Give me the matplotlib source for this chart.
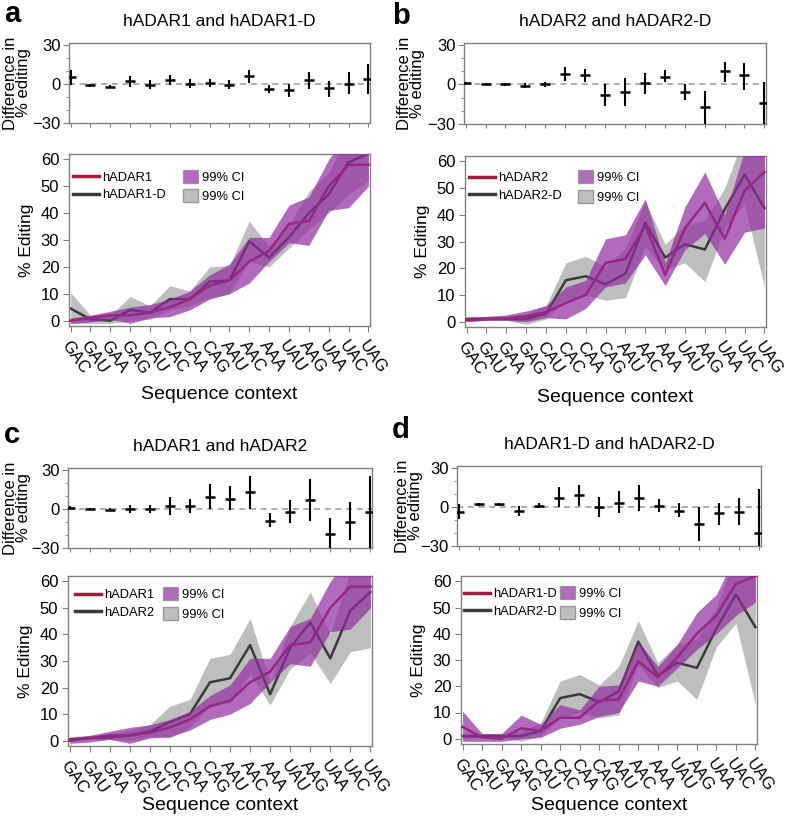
""" Editing by sequence context, four pairwise panels
"""

import numpy as np
import matplotlib
import matplotlib.pyplot as plt
from matplotlib.lines import Line2D
from matplotlib.patches import Patch

matplotlib.pyplot.switch_backend("Agg")
plt.rcParams["font.family"] = ["Liberation Sans", "DejaVu Sans"]

W, H = 788, 817

contexts = ["GAC", "GAU", "GAA", "GAG", "CAU", "CAC", "CAA", "CAG",
            "AAU", "AAC", "AAA", "UAU", "AAG", "UAA", "UAC", "UAG"]

# mean % editing and 99% CI bounds for each enzyme
hADAR1 = [0, 1, 2, 2, 3, 5, 8, 13, 15, 22, 26, 36, 37, 50, 58, 58]
hADAR1_lo = [-1, -0.5, 0.5, -1, 1, 1.5, 4, 8, 10, 14, 22, 29, 28, 41, 42, 50]
hADAR1_hi = [1, 2, 3.5, 5, 6, 8, 11, 17, 21, 31, 31, 43, 46, 60, 70, 68]

hADAR1D = [4.5, 0.5, 0, 4, 3, 8, 8, 14.5, 15, 29.5, 23.5, 31, 40, 47, 59, 62]
hADAR1D_lo = [-1, -1, -1, 0, 0.5, 4, 5.5, 8.5, 10, 22, 20, 27, 34, 40, 47, 52]
hADAR1D_hi = [10.5, 2, 2, 9, 5.5, 13, 11, 20, 20.5, 37, 27.5, 36, 48, 55, 70, 72]

hADAR2 = [0.5, 1, 1.2, 2, 3.5, 7, 10, 22, 23.5, 36, 17.5, 35, 44.5, 31, 49, 56]
hADAR2_lo = [0, 0.5, 0.5, 0, 1.5, 1, 5, 13, 14.5, 25, 13.5, 27, 33, 21.5, 33.5, 35]
hADAR2_hi = [1.5, 2, 2.5, 4, 6, 13, 15.5, 31, 32.5, 46, 22, 43, 56, 40, 64, 77]

hADAR2D = [1, 1, 1, 1, 3, 15.5, 17, 14, 18, 37, 24, 29, 27, 42, 55, 42.5]
hADAR2D_lo = [0, 0.5, 0.5, -1, 1, 8, 10, 8, 9, 28, 19.5, 22, 15, 35, 44, 13]
hADAR2D_hi = [2, 2, 2, 3, 6, 22, 24.5, 20.5, 27.5, 45, 29, 36, 38, 50, 70, 65]

# difference in % editing (mean, lower, upper)
diff_a = [5, -1, -2, 2, -1, 3, 0, 1, -1, 6, -4, -5, 3, -3, 0, 4]
diff_a_lo = [-1, -2, -3, -2, -4, -1, -3, -2, -4, 1, -7, -10, -4, -10, -8, -8]
diff_a_hi = [11, 0, -1, 6, 3, 7, 4, 4, 3, 11, -1, 0, 9, 2, 9, 15]

diff_b = [1, 0.5, 0, -1, 0, 8, 7, -8, -6, 1, 6, -6, -17, 10, 7, -14]
diff_b_lo = [0, -0.5, -1, -3, -2, 3, 2, -16, -16, -7, 2, -12, -30, 2, -4, -30]
diff_b_hi = [2, 1.5, 1, 1, 2, 13, 12, 0, 5, 9, 11, 0, -5, 17, 16, 2]

diff_c = [1, 0, -0.5, 0, 0, 2, 2.5, 9, 8, 13, -9, -2, 7, -19, -10, -2]
diff_c_lo = [0, -1, -1.5, -3, -3, -5, -3, 0, -1, 0, -14, -11, -9, -30, -24, -30]
diff_c_hi = [2, 1, 0.5, 3, 3, 9, 8, 19, 18, 25, -3, 7, 23, -7, 5, 25]

diff_d = [-4, 2, 2, -3, 1, 7, 9, 0, 3, 7, 1, -3, -13, -5, -4, -20]
diff_d_lo = [-9, 1, 1, -7, -1, 0, 1, -8, -5, -3, -4, -8, -26, -14, -14, -30]
diff_d_hi = [2, 3, 3, 1, 3, 15, 17, 8, 12, 17, 6, 3, 0, 3, 7, 14]

# layout in pixels: letter (x, baseline y), diff box, editing box,
# diff ylabel right edge x, legend line column x, patch column x, centre y,
# xlabel y
panels = [
    ("a", "hADAR1 and hADAR1-D",
     ("hADAR1", hADAR1, hADAR1_lo, hADAR1_hi),
     ("hADAR1-D", hADAR1D, hADAR1D_lo, hADAR1D_hi),
     (diff_a, diff_a_lo, diff_a_hi),
     dict(letter=(4, 22), top=(69, 370, 43, 123), bot=(69, 370, 154, 326),
          dlab=31, leg=(73, 183, 186.5), xlab=395)),
    ("b", "hADAR2 and hADAR2-D",
     ("hADAR2", hADAR2, hADAR2_lo, hADAR2_hi),
     ("hADAR2-D", hADAR2D, hADAR2D_lo, hADAR2D_hi),
     (diff_b, diff_b_lo, diff_b_hi),
     dict(letter=(392, 24), top=(464, 766, 43, 124), bot=(465, 766, 156, 327),
          dlab=425, leg=(469, 578, 187), xlab=397)),
    ("c", "hADAR1 and hADAR2",
     ("hADAR1", hADAR1, hADAR1_lo, hADAR1_hi),
     ("hADAR2", hADAR2, hADAR2_lo, hADAR2_hi),
     (diff_c, diff_c_lo, diff_c_hi),
     dict(letter=(4, 443), top=(68, 372, 468, 548), bot=(68, 372, 576, 746),
          dlab=31, leg=(75, 163, 604), xlab=805)),
    ("d", "hADAR1-D and hADAR2-D",
     ("hADAR1-D", hADAR1D, hADAR1D_lo, hADAR1D_hi),
     ("hADAR2-D", hADAR2D, hADAR2D_lo, hADAR2D_hi),
     (diff_d, diff_d_lo, diff_d_hi),
     dict(letter=(392, 438), top=(457, 761, 466, 546), bot=(461, 757, 576, 744),
          dlab=423, leg=(464, 560, 603), xlab=805)),
]

spine_col = "#808080"
mag_fill = "#922DA0"
mag_line = "#A01C3C"
grey_fill = "#BEBEBE"
grey_line = "#3A3A3A"


def box(fig, l, r, t, b):
    return fig.add_axes([l / W, 1 - b / H, (r - l) / W, (b - t) / H])


def style(ax):
    for s in ax.spines.values():
        s.set_color(spine_col)
        s.set_linewidth(1.0)
    ax.tick_params(which="both", labelsize=12, color=spine_col)


def px(x, y):
    return x / W, 1 - y / H


fig = plt.figure(figsize=(W / 100, H / 100), dpi=100)
x = np.arange(len(contexts))

for letter, title, s1, s2, diff, lay in panels:
    # difference panel
    l, r, t, b = lay["top"]
    ax1 = box(fig, l, r, t, b)
    style(ax1)
    d, dlo, dhi = (np.array(v, dtype=float) for v in diff)
    ax1.axhline(0, color="#999999", ls=(0, (4, 3)), lw=1.1, zorder=1)
    ax1.vlines(x, dlo, dhi, color="black", lw=1.5, zorder=3)
    ax1.plot(x, d, ls="none", marker="_", ms=7.5, mew=1.8, color="black",
             zorder=4)
    ax1.set_xlim(-0.08, 15.08)
    ax1.set_ylim(-30, 31.5)
    ax1.set_yticks([-30, 0, 30])
    ax1.set_yticklabels(["\u221230", "0", "30"])
    ax1.set_yticks([-20, -10, 10, 20], minor=True)
    ax1.set_xticks(x)
    ax1.set_xticklabels([])
    ax1.tick_params(axis="x", length=3)
    ax1.tick_params(axis="y", which="major", length=4, pad=2)
    ax1.tick_params(axis="y", which="minor", length=2.5)
    ax1.set_ylabel("Difference in\n% editing", fontsize=12, linespacing=0.82)
    ax1.yaxis.set_label_coords((lay["dlab"] - l) / (r - l), 0.5)
    ax1.set_title(title, fontsize=12.5, pad=12)
    fig.text(*px(*lay["letter"]), letter, fontsize=21, fontweight="bold",
             va="baseline", ha="left")

    # % editing panel
    l, r, t, b = lay["bot"]
    ax2 = box(fig, l, r, t, b)
    style(ax2)
    name1, m1, lo1, hi1 = s1
    name2, m2, lo2, hi2 = s2
    ax2.fill_between(x, lo2, hi2, color=grey_fill, lw=0, zorder=1)
    ax2.plot(x, m2, color=grey_line, lw=1.8, zorder=2)
    ax2.plot(x, m1, color=mag_line, lw=1.8, zorder=3)
    ax2.fill_between(x, lo1, hi1, color=mag_fill, alpha=0.7, lw=0, zorder=4)
    ax2.set_xlim(-0.08, 15.08)
    ax2.set_ylim(-2, 62)
    ax2.set_yticks(range(0, 61, 10))
    ax2.set_xticks(x)
    ax2.set_xticklabels(contexts, rotation=-55, ha="left", va="top",
                        rotation_mode="anchor", fontsize=12)
    ax2.tick_params(axis="x", length=4, pad=5)
    ax2.tick_params(axis="y", length=4, pad=3)
    ax2.set_ylabel("% Editing", fontsize=12.5)
    ax2.yaxis.set_label_coords(-35 / (r - l), 0.5)
    fig.text(*px((l + r) / 2, lay["xlab"]), "Sequence context", fontsize=14,
             ha="center", va="center")

    lx, pcx, ly = lay["leg"]
    leg1 = ax2.legend([Line2D([], [], color=mag_line, lw=2.5),
                       Line2D([], [], color=grey_line, lw=2.5)],
                      [name1, name2], loc="center left", frameon=False,
                      fontsize=9.3, handlelength=2.0, handletextpad=0.25,
                      labelspacing=0.45, borderpad=0, borderaxespad=0,
                      bbox_to_anchor=px(lx, ly),
                      bbox_transform=fig.transFigure)
    ax2.add_artist(leg1)
    ax2.legend([Patch(facecolor=mag_fill, alpha=0.7, edgecolor="#888888"),
                Patch(facecolor=grey_fill, edgecolor="#999999")],
               ["99% CI", "99% CI"], loc="center left", frameon=False,
               fontsize=9.3, handlelength=1.15, handleheight=1.15,
               handletextpad=0.35, labelspacing=0.45, borderpad=0,
               borderaxespad=0, bbox_to_anchor=px(pcx, ly),
               bbox_transform=fig.transFigure)

fig.savefig("out.png", dpi=100)
